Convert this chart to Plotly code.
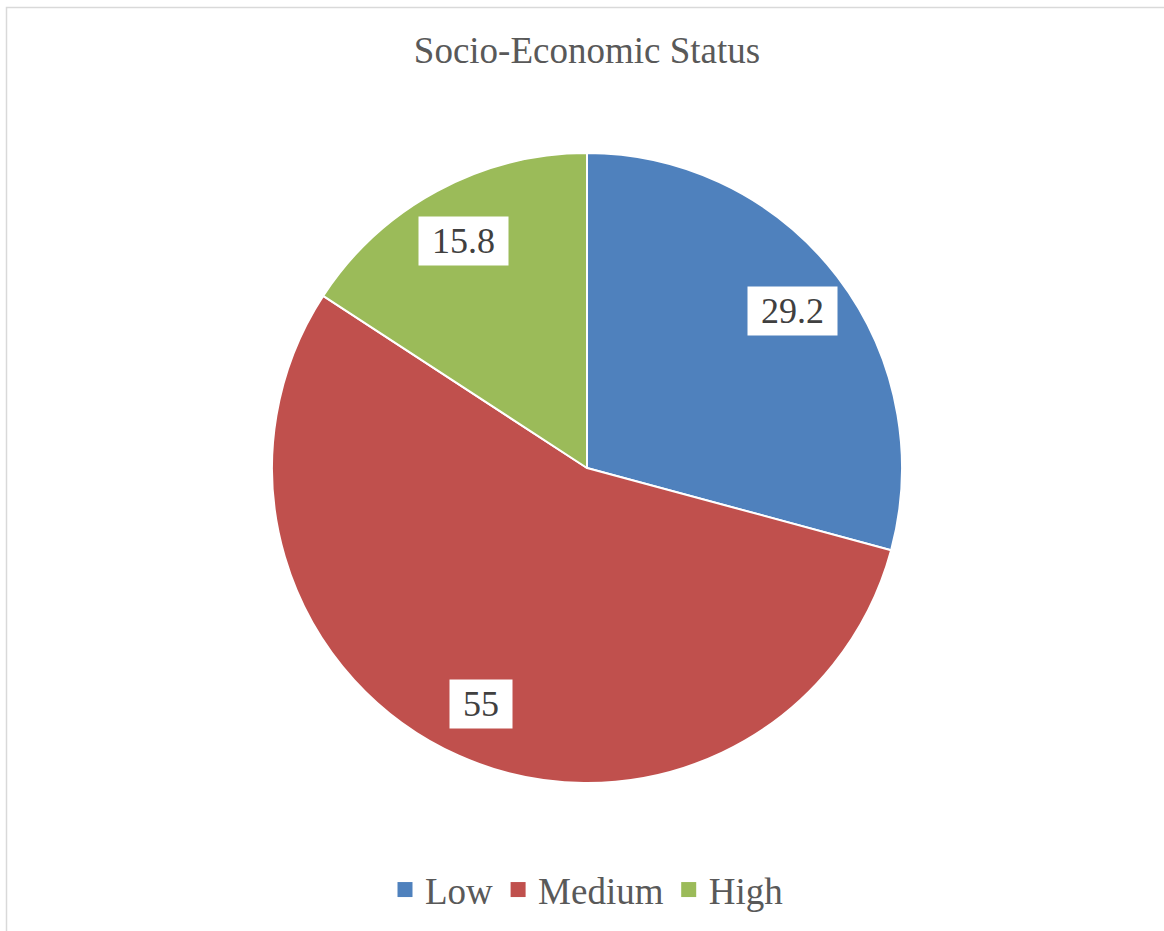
import math
import plotly.graph_objects as go

categories = ["Low", "Medium", "High"]
values = [29.2, 55, 15.8]
label_text = ["29.2", "55", "15.8"]
colors = ["#4F81BD", "#C0504D", "#9BBB59"]

W, H = 1164, 931
cx, cy, r = 587, 468, 315  # pie centre/radius in pixels
FONT = "Times New Roman, Liberation Serif, serif"

fig = go.Figure(go.Pie(
    labels=categories, values=values, sort=False, direction="clockwise", rotation=0,
    marker=dict(colors=colors, line=dict(color="white", width=2)),
    textinfo="none", hoverinfo="label+value", showlegend=False,
    domain=dict(x=[(cx - r) / W, (cx + r) / W], y=[1 - (cy + r) / H, 1 - (cy - r) / H]),
))

# legend entries with larger square swatches
for name, col in zip(categories, colors):
    fig.add_trace(go.Scatter(
        x=[None], y=[None], mode="markers", name=name,
        marker=dict(symbol="square", size=15, color=col), showlegend=True,
    ))

# data labels in white boxes, placed along each slice's mid-angle
total = sum(values)
cum = 0
annotations = []
for v, t in zip(values, label_text):
    mid = (cum + v / 2) / total * 2 * math.pi
    cum += v
    px = cx + 0.82 * r * math.sin(mid)
    py = cy - 0.82 * r * math.cos(mid)
    annotations.append(dict(
        x=px / W, y=1 - py / H, xref="paper", yref="paper",
        text="\u00a0" + t + "\u00a0", showarrow=False,
        font=dict(family=FONT, size=36, color="#404040"),
        bgcolor="white", borderpad=4, xanchor="center", yanchor="middle",
    ))

fig.update_layout(
    width=W, height=H, margin=dict(l=0, r=0, t=0, b=0),
    paper_bgcolor="white", plot_bgcolor="rgba(0,0,0,0)",
    xaxis=dict(visible=False), yaxis=dict(visible=False),
    title=dict(text="Socio-Economic Status", x=cx / W, xanchor="center", y=1 - 50 / H, yanchor="middle",
               font=dict(family=FONT, size=37, color="#595959")),
    legend=dict(orientation="h", x=cx / W, xanchor="center", y=1 - 890 / H, yanchor="middle",
                font=dict(family=FONT, size=37, color="#595959"),
                itemwidth=30, itemsizing="trace", traceorder="normal"),
    annotations=annotations,
    shapes=[dict(type="rect", xref="paper", yref="paper", x0=6.5 / W, x1=1.05, y0=-0.05, y1=1 - 7.5 / H,
                 line=dict(color="#D9D9D9", width=1.5), fillcolor="rgba(0,0,0,0)", layer="below")],
)

fig.write_html("out.html", config={"displayModeBar": False},
               post_script="document.body.style.margin='0';document.body.style.overflow='hidden';")
